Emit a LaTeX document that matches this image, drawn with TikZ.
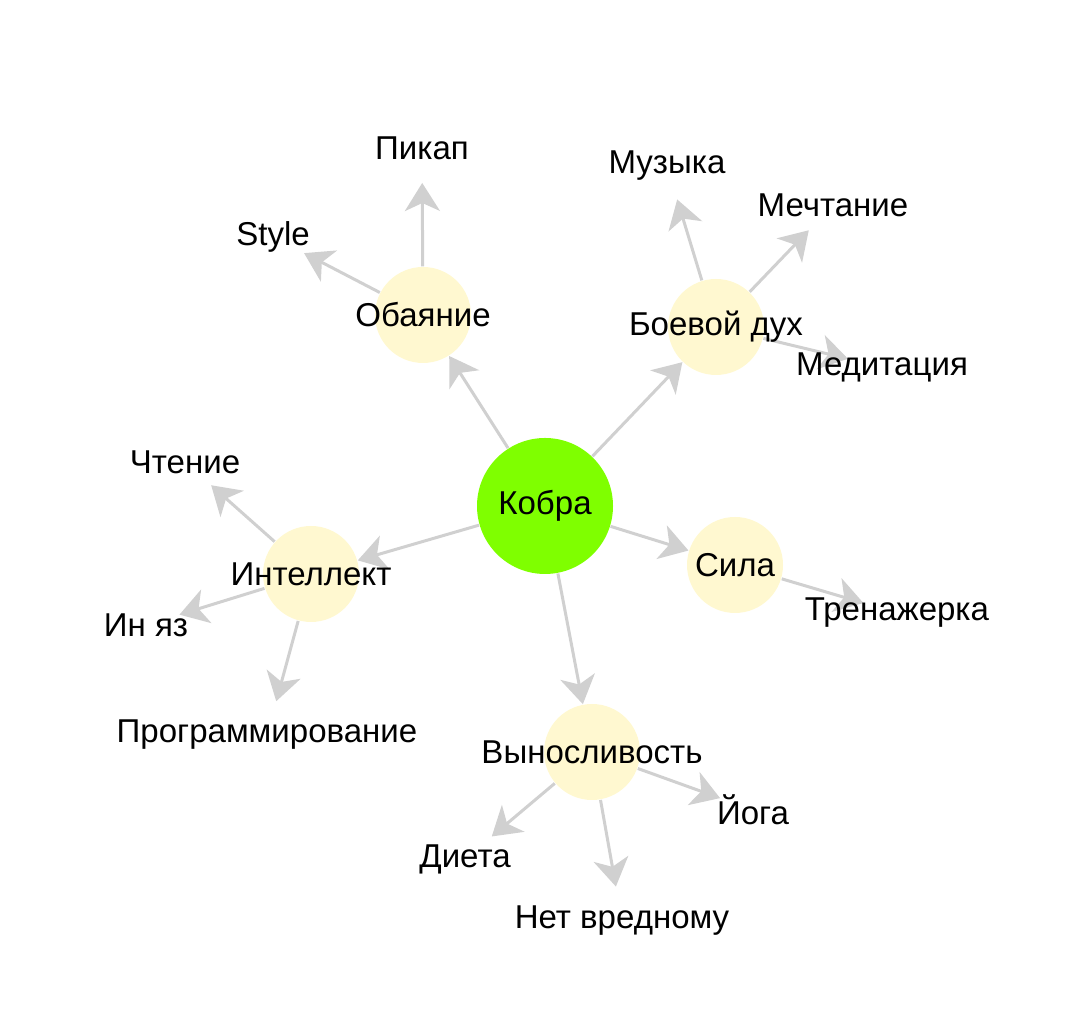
\documentclass[tikz,border=0pt]{standalone}
\usepackage{fontspec}
\setmainfont{Liberation Sans}
\usepackage{xcolor}
\usetikzlibrary{arrows.meta, backgrounds}

\definecolor{kobragreen}{HTML}{7FFF00}
\definecolor{hubyellow}{HTML}{FFF8D0}
\definecolor{linkgray}{HTML}{D0D0D0}

\begin{document}
\begin{tikzpicture}[
    font=\fontsize{9.4}{11}\selectfont,
    root/.style={circle, fill=kobragreen, minimum size=13.6mm, inner sep=0pt},
    hub/.style={circle, fill=hubyellow, minimum size=9.6mm, inner sep=0pt},
    link/.style={draw=linkgray, line width=0.3mm, -{Stealth[length=2.8mm, width=3.5mm, inset=0.8mm]}},
    toleaf/.style={link, shorten >=3.5mm}
  ]
  \useasboundingbox (0,0) rectangle (10.8,10.11);

  % Root and hub circles
  \node[root] (kobra) at (5.45,5.05) {};
  \node[hub] (obayanie) at (4.23,6.96) {};
  \node[hub] (boevoy) at (7.16,6.84) {};
  \node[hub] (intellekt) at (3.11,4.37) {};
  \node[hub] (sila) at (7.35,4.46) {};
  \node[hub] (vynoslivost) at (5.92,2.59) {};

  % Leaves
  \node (pikap) at (4.22,8.63) {Пикап};
  \node (style) at (2.73,7.74) {Style};
  \node (muzyka) at (6.67,8.45) {Музыка};
  \node (mechtanie) at (8.33,8.06) {Мечтание};
  \node (meditaciya) at (8.82,6.44) {Медитация};
  \node (chtenie) at (1.85,5.49) {Чтение};
  \node (inyaz) at (1.46,3.86) {Ин яз};
  \node (programm) at (2.67,2.76) {Программирование};
  \node (trenazh) at (8.97,3.98) {Тренажерка};
  \node (yoga) at (7.53,2.01) {Йога};
  \node (dieta) at (4.65,1.52) {Диета};
  \node (netvred) at (6.22,0.90) {Нет вредному};

  \begin{scope}[on background layer]
    % Root to hubs
    \foreach \h in {obayanie,boevoy,intellekt,sila,vynoslivost}
      \draw[link] (kobra) -- (\h);

    % Hubs to leaves
    \foreach \h/\l in {obayanie/pikap, obayanie/style,
                       boevoy/muzyka, boevoy/mechtanie, boevoy/meditaciya,
                       intellekt/chtenie, intellekt/inyaz, intellekt/programm,
                       sila/trenazh,
                       vynoslivost/yoga, vynoslivost/dieta, vynoslivost/netvred}
      \draw[toleaf] (\h) -- (\l.center);
  \end{scope}

  % Captions over the circles
  \node (kobra-t) at (kobra) {Кобра};
  \node (obayanie-t) at (obayanie) {Обаяние};
  \node (boevoy-t) at (boevoy) {Боевой дух};
  \node (intellekt-t) at (intellekt) {Интеллект};
  \node (sila-t) at (sila) {Сила};
  \node (vynoslivost-t) at (vynoslivost) {Выносливость};
\end{tikzpicture}
\end{document}
